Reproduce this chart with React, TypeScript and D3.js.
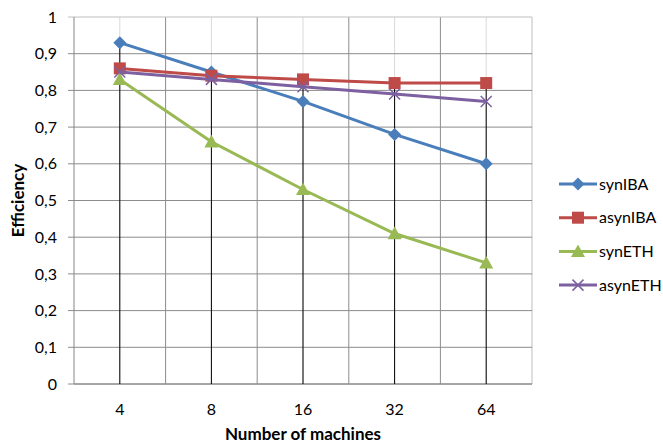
import React from "react";
import * as d3 from "d3";

const categories = ["4", "8", "16", "32", "64"];
const synIBA = [0.93, 0.85, 0.77, 0.68, 0.6];
const asynIBA = [0.86, 0.84, 0.83, 0.82, 0.82];
const synETH = [0.83, 0.66, 0.53, 0.41, 0.33];
const asynETH = [0.85, 0.83, 0.81, 0.79, 0.77];
const yTicks = [0, 0.1, 0.2, 0.3, 0.4, 0.5, 0.6, 0.7, 0.8, 0.9, 1];

const series = [
  { name: "synIBA", values: synIBA, color: "#4a7ebb", marker: "diamond" },
  { name: "asynIBA", values: asynIBA, color: "#be4b48", marker: "square" },
  { name: "synETH", values: synETH, color: "#98b954", marker: "triangle" },
  { name: "asynETH", values: asynETH, color: "#7d60a0", marker: "x" },
];

const W = 663, H = 444;
const left = 74, right = 532, top = 17, bottom = 384;
const font = "Lato, 'Open Sans', sans-serif";

function Marker({ type, x, y, color }: { type: string; x: number; y: number; color: string }) {
  if (type === "diamond") {
    const s = 6.5;
    return <path d={`M${x},${y - s}L${x + s},${y}L${x},${y + s}L${x - s},${y}Z`} fill={color} />;
  }
  if (type === "square") {
    const s = 6;
    return <rect x={x - s} y={y - s} width={2 * s} height={2 * s} fill={color} />;
  }
  if (type === "triangle") {
    const s = 7;
    return <path d={`M${x},${y - s}L${x + s},${y + s * 0.8}L${x - s},${y + s * 0.8}Z`} fill={color} />;
  }
  const s = 5.5;
  return (
    <path d={`M${x - s},${y - s}L${x + s},${y + s}M${x - s},${y + s}L${x + s},${y - s}`} stroke={color} strokeWidth={1.5} fill="none" />
  );
}

export default function App() {
  const x = d3.scaleBand<string>().domain(categories).range([left, right]);
  const y = d3.scaleLinear().domain([0, 1]).range([bottom, top]);
  const cx = (c: string) => (x(c) as number) + x.bandwidth() / 2;
  const line = d3
    .line<number>()
    .x((_, i) => cx(categories[i]))
    .y((v) => y(v));
  const boundaries = categories.map((c) => x(c) as number).concat([right]);
  const maxes = categories.map((_, i) => d3.max(series, (s) => s.values[i]) as number);

  return (
    <svg width={W} height={H} style={{ position: "absolute", left: 0, top: 0, background: "#fff" }}>
      <rect x={0} y={0} width={W} height={H} fill="#fff" />
      {categories.map((c) => (
        <line key={"m" + c} x1={cx(c)} x2={cx(c)} y1={top} y2={bottom} stroke="#d9d9d9" strokeWidth={1} />
      ))}
      {boundaries.slice(1).map((b, i) => (
        <line key={"b" + i} x1={b} x2={b} y1={top} y2={bottom} stroke={i === boundaries.length - 2 ? "#bfbfbf" : "#8c8c8c"} strokeWidth={1} />
      ))}
      {yTicks.map((t) => (
        <line key={"h" + t} x1={left - 6} x2={right} y1={y(t)} y2={y(t)} stroke={t === 1 ? "#bfbfbf" : "#8c8c8c"} strokeWidth={1} />
      ))}
      <line x1={left} x2={left} y1={top} y2={bottom} stroke="#868686" strokeWidth={1} />
      <line x1={left} x2={right} y1={bottom} y2={bottom} stroke="#868686" strokeWidth={1} />
      {categories.map((c, i) => (
        <line key={"d" + c} x1={cx(c)} x2={cx(c)} y1={y(maxes[i])} y2={bottom} stroke="#000" strokeWidth={1} />
      ))}
      {yTicks.map((t) => (
        <text key={"yt" + t} x={57} y={y(t)} dy="0.35em" textAnchor="end" fontFamily={font} fontSize={16} fill="#000">
          {t === 0 || t === 1 ? String(t) : t.toFixed(1).replace(".", ",")}
        </text>
      ))}
      {categories.map((c) => (
        <text key={"xt" + c} x={cx(c)} y={409} dy="0.35em" textAnchor="middle" fontFamily={font} fontSize={16} fill="#000">
          {c}
        </text>
      ))}
      {series.map((s) => (
        <g key={s.name}>
          <path d={line(s.values) as string} fill="none" stroke={s.color} strokeWidth={3} strokeLinejoin="round" />
          {s.values.map((v, i) => (
            <Marker key={i} type={s.marker} x={cx(categories[i])} y={y(v)} color={s.color} />
          ))}
        </g>
      ))}
      <text x={303} y={440} textAnchor="middle" fontFamily={font} fontSize={17} fontWeight="bold" fill="#000">
        Number of machines
      </text>
      <text transform={`translate(18,${(top + bottom) / 2}) rotate(-90)`} dy="0.35em" textAnchor="middle" fontFamily={font} fontSize={17} fontWeight="bold" fill="#000">
        Efficiency
      </text>
      {series.map((s, i) => {
        const ly = 184 + i * 33.7;
        return (
          <g key={"l" + s.name}>
            <line x1={559} x2={597} y1={ly} y2={ly} stroke={s.color} strokeWidth={3} />
            <Marker type={s.marker} x={578} y={ly} color={s.color} />
            <text x={599} y={ly} dy="0.35em" fontFamily={font} fontSize={16} fill="#000">
              {s.name}
            </text>
          </g>
        );
      })}
    </svg>
  );
}
